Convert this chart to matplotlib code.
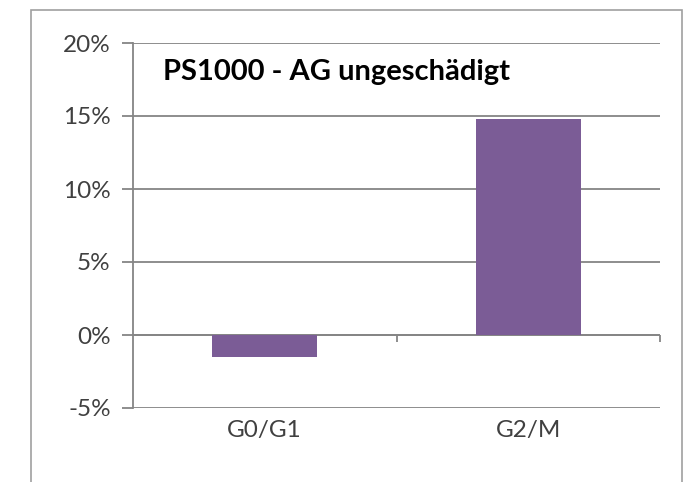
import numpy as np
import matplotlib; matplotlib.use('Agg')
import matplotlib.pyplot as plt
from matplotlib.patches import Rectangle
from matplotlib.ticker import FuncFormatter

# data
categories = ['G0/G1', 'G2/M']
values = [-1.5, 14.8]          # percent
yticks = [-5, 0, 5, 10, 15, 20]
title = 'PS1000 - AG ungeschädigt'

plt.rcParams['font.family'] = ['Lato', 'DejaVu Sans']

fig = plt.figure(figsize=(6.98, 4.82), dpi=100)
ax = fig.add_axes([133/698, 1 - 408/482, 527/698, 365/482])

# outer chart border (like the Excel chart frame)
fig.patches.append(Rectangle((31/698, -0.1), 651/698, 1.1 - 10/482,
                             transform=fig.transFigure, fill=False,
                             edgecolor='#a0a0a0', lw=1.2))

x = np.arange(len(categories))
ax.bar(x, values, width=0.4, color='#7b5c96', zorder=3)

ax.set_xlim(-0.5, len(categories) - 0.5)
ax.set_ylim(yticks[0], yticks[-1])
ax.set_yticks(yticks)
ax.yaxis.set_major_formatter(FuncFormatter(lambda v, p: f'{v:.0f}%'))
ax.grid(axis='y', color='#858585', lw=1.3, zorder=0)
ax.axhline(0, color='#858585', lw=1.3, zorder=2)

# category boundary ticks hanging off the zero line
bounds = x[:-1] + 0.5
ax.vlines(np.append(bounds, x[-1] + 0.5), 0, -0.5, color='#858585', lw=1.3, clip_on=False)

ax.set_xticks(x, categories)
ax.tick_params(axis='x', length=0, pad=9, labelsize=17.5, labelcolor='#404040')
ax.tick_params(axis='y', length=8, width=1.3, color='#858585', pad=8,
               labelsize=17.5, labelcolor='#404040')

for s in ['top', 'right', 'bottom']:
    ax.spines[s].set_visible(False)
ax.spines['left'].set_color('#858585')
ax.spines['left'].set_linewidth(1.3)

ax.text(0.057, 0.92, title, transform=ax.transAxes, fontsize=21,
        fontweight='bold', color='black', va='center', ha='left')

fig.savefig('out.png', dpi=100)
